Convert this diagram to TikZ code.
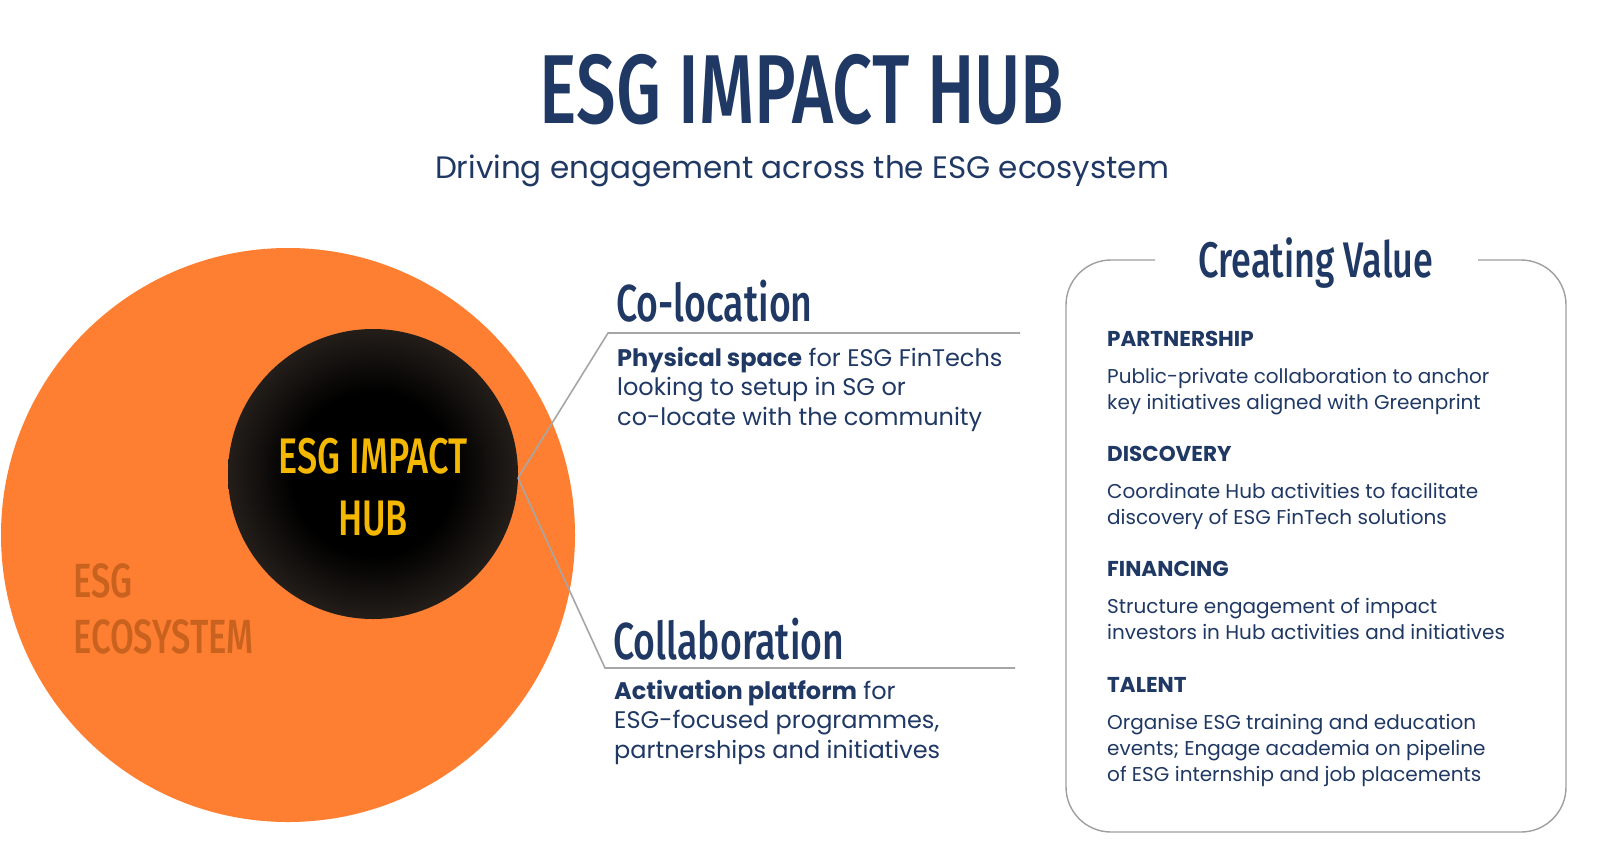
\documentclass[tikz,border=0pt]{standalone}
\usepackage{fontspec}
\setmainfont{Poppins}
\newfontfamily\cond{Fira Sans}[UprightFont=* Medium,BoldFont=* SemiBold]
\usetikzlibrary{shadings}
\definecolor{navy}{HTML}{1F3864}
\definecolor{orng}{HTML}{FF7F32}
\definecolor{dorng}{HTML}{C8621E}
\definecolor{ylw}{HTML}{F5B800}
\definecolor{edge}{HTML}{8A7360}
\definecolor{midc}{HTML}{3A312A}
\pgfdeclareradialshading{hubshade}{\pgfpoint{0bp}{0bp}}{color(0bp)=(black);color(14bp)=(black);color(32bp)=(midc);color(50bp)=(edge)}
\newcommand{\cnd}[2]{\scalebox{#1}[1]{#2}}
\tikzset{
 conn/.style={draw=gray!70,line width=1.6pt},
 body/.style={anchor=north west,align=left,text=navy,font=\fontsize{24}{29.5}\selectfont,inner sep=0},
 rhead/.style={anchor=north west,text=navy,font=\bfseries\fontsize{21.5}{25}\selectfont,inner sep=0},
 rbody/.style={anchor=north west,align=left,text=navy,font=\fontsize{20}{26}\selectfont,inner sep=0},
}
\begin{document}
\begin{tikzpicture}[x=1pt,y=-1pt]
\fill[white] (0,0) rectangle (1600,852);
\node (title) at (802,90) {\cond\color{navy}\fontsize{98}{98}\selectfont\cnd{0.72}{ESG IMPACT HUB}};
\node (sub) at (802,171) {\color{navy}\fontsize{31}{34}\selectfont Driving engagement across the ESG ecosystem};
\fill[orng] (288,535) circle (287);
\node[text=dorng,anchor=north west,align=left,inner sep=0,font=\cond\fontsize{48}{56}\selectfont] (eco) at (73,563) {\cnd{0.72}{ESG}\\\cnd{0.72}{ECOSYSTEM}};
\shade[shading=hubshade] (373,474) circle (145);
\node[text=ylw,align=center,font=\cond\fontsize{50}{62}\selectfont] (hub) at (373,487) {\cnd{0.72}{ESG IMPACT}\\\cnd{0.72}{HUB}};
\coordinate (o) at (518,478);
\coordinate (c1) at (608,333); \coordinate (c1e) at (1020,333);
\coordinate (c2) at (605,668); \coordinate (c2e) at (1015,668);
\draw[conn] (o) -- (c1) -- (c1e);
\draw[conn] (o) -- (c2) -- (c2e);
\node[anchor=south west,inner sep=0,text=navy] (h1) at (616,322) {\cond\fontsize{52}{52}\selectfont\cnd{0.72}{Co-location}};
\node[anchor=south west,inner sep=0,text=navy] (h2) at (613,660) {\cond\fontsize{52}{52}\selectfont\cnd{0.72}{Collaboration}};
\node[body] (b1) at (617,347) {\textbf{Physical space} for ESG FinTechs\\looking to setup in SG or\\co-locate with the community};
\node[body] (b2) at (614,680) {\textbf{Activation platform} for\\ESG-focused programmes,\\partnerships and initiatives};
\draw[draw=gray!75,line width=1.4pt,rounded corners=45pt] (1155,260) -- (1066,260) -- (1066,832) -- (1566,832) -- (1566,260) -- (1478,260);
\node[text=navy] (cv) at (1316,263) {\cond\fontsize{50}{50}\selectfont\cnd{0.72}{Creating Value}};
\node[rhead] (p) at (1107,331) {PARTNERSHIP};
\node[rbody] (pb) at (1107,368) {Public-private collaboration to anchor\\key initiatives aligned with Greenprint};
\node[rhead] (d) at (1107,446) {DISCOVERY};
\node[rbody] (db) at (1107,483) {Coordinate Hub activities to facilitate\\discovery of ESG FinTech solutions};
\node[rhead] (f) at (1107,561) {FINANCING};
\node[rbody] (fb) at (1107,598) {Structure engagement of impact\\investors in Hub activities and initiatives};
\node[rhead] (t) at (1107,677) {TALENT};
\node[rbody] (tb) at (1107,714) {Organise ESG training and education\\events; Engage academia on pipeline\\of ESG internship and job placements};
\pgfresetboundingbox
\useasboundingbox (0,0) rectangle (1600,852);
\end{tikzpicture}
\end{document}
